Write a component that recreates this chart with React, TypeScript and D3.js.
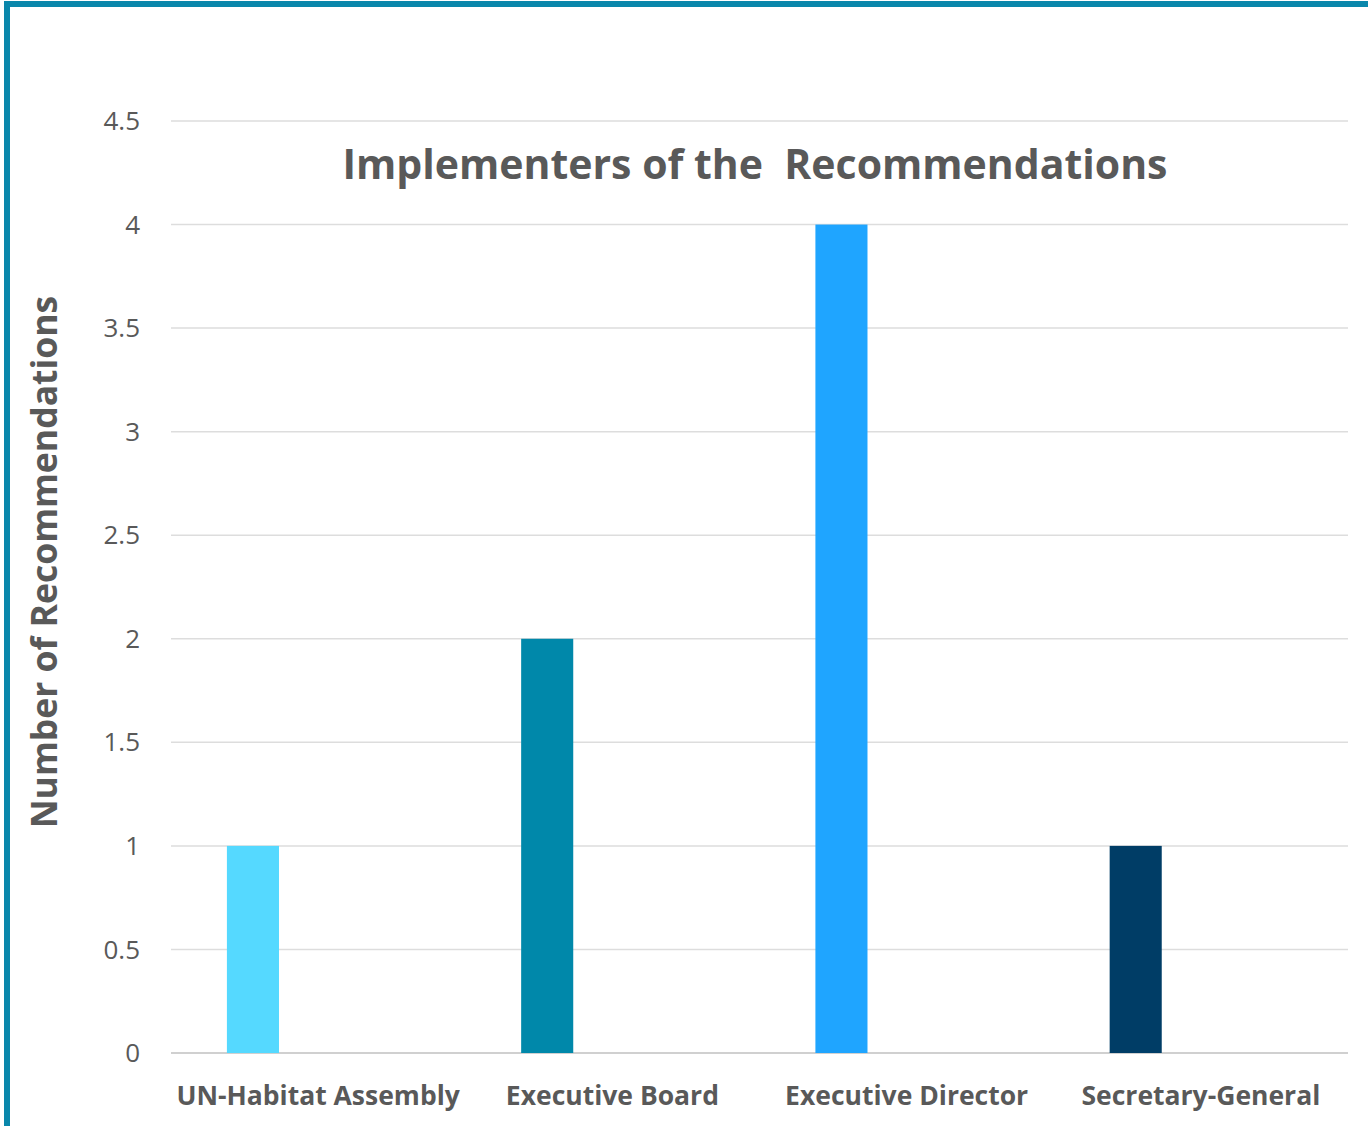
import React from 'react';
import * as d3 from 'd3';

const categories = ['UN-Habitat Assembly', 'Executive Board', 'Executive Director', 'Secretary-General'];
const values = [1, 2, 4, 1];
const barColors = ['#55D9FF', '#0088AA', '#1FA5FF', '#003D66'];
const yTicks = [0, 0.5, 1, 1.5, 2, 2.5, 3, 3.5, 4, 4.5];

const W = 1368;
const H = 1126;
const FONT = '"Open Sans", Lato, sans-serif';

const App = () => {
  const margin = { top: 121, right: 20, bottom: 73, left: 171 };

  const x = d3
    .scaleBand()
    .domain(categories)
    .range([margin.left, W - margin.right])
    .padding(0);

  const y = d3
    .scaleLinear()
    .domain([0, 4.5])
    .range([H - margin.bottom, margin.top]);

  // bars sit left of the band centre (clustered layout with a single series)
  const barOffset = x.bandwidth() * 0.19;
  const barWidth = x.bandwidth() * 0.177;

  return (
    <div style={{ position: 'fixed', left: 0, top: 0 }}>
      <svg width={W} height={H} style={{ display: 'block', background: '#fff' }}>
        {/* frame */}
        <rect x={7} y={4} width={W + 20} height={H + 20} fill="none" stroke="#0A87AB" strokeWidth={6} />

        {/* gridlines */}
        {yTicks.map((t) => (
          <line
            key={t}
            x1={margin.left}
            x2={W - margin.right}
            y1={y(t)}
            y2={y(t)}
            stroke={t === 0 ? '#D0D0D0' : '#DDDDDD'}
            strokeWidth={t === 0 ? 2 : 1.5}
          />
        ))}

        {/* y tick labels */}
        {yTicks.map((t) => (
          <text
            key={t}
            x={140}
            y={y(t)}
            dy="0.35em"
            textAnchor="end"
            fontFamily={FONT}
            fontSize={26}
            fill="#595959"
          >
            {String(t)}
          </text>
        ))}

        {/* bars */}
        {categories.map((c, i) => (
          <rect
            key={c}
            x={(x(c) as number) + barOffset}
            y={y(values[i])}
            width={barWidth}
            height={y(0) - y(values[i])}
            fill={barColors[i]}
          />
        ))}

        {/* x labels */}
        {categories.map((c) => (
          <text
            key={c}
            x={(x(c) as number) + x.bandwidth() / 2}
            y={1105}
            textAnchor="middle"
            fontFamily={FONT}
            fontWeight="bold"
            fontSize={26.5}
            fill="#595959"
          >
            {c}
          </text>
        ))}

        {/* title */}
        <text
          x={755}
          y={179}
          textAnchor="middle"
          fontFamily={FONT}
          fontWeight="bold"
          fontSize={41}
          fill="#595959"
          style={{ whiteSpace: 'pre' }}
        >
          {'Implementers of the  Recommendations'}
        </text>

        {/* y axis title */}
        <text
          transform={`translate(57,${562}) rotate(-90)`}
          textAnchor="middle"
          fontFamily={FONT}
          fontWeight="bold"
          fontSize={35.5}
          fill="#595959"
        >
          Number of Recommendations
        </text>
      </svg>
    </div>
  );
};

export default App;
